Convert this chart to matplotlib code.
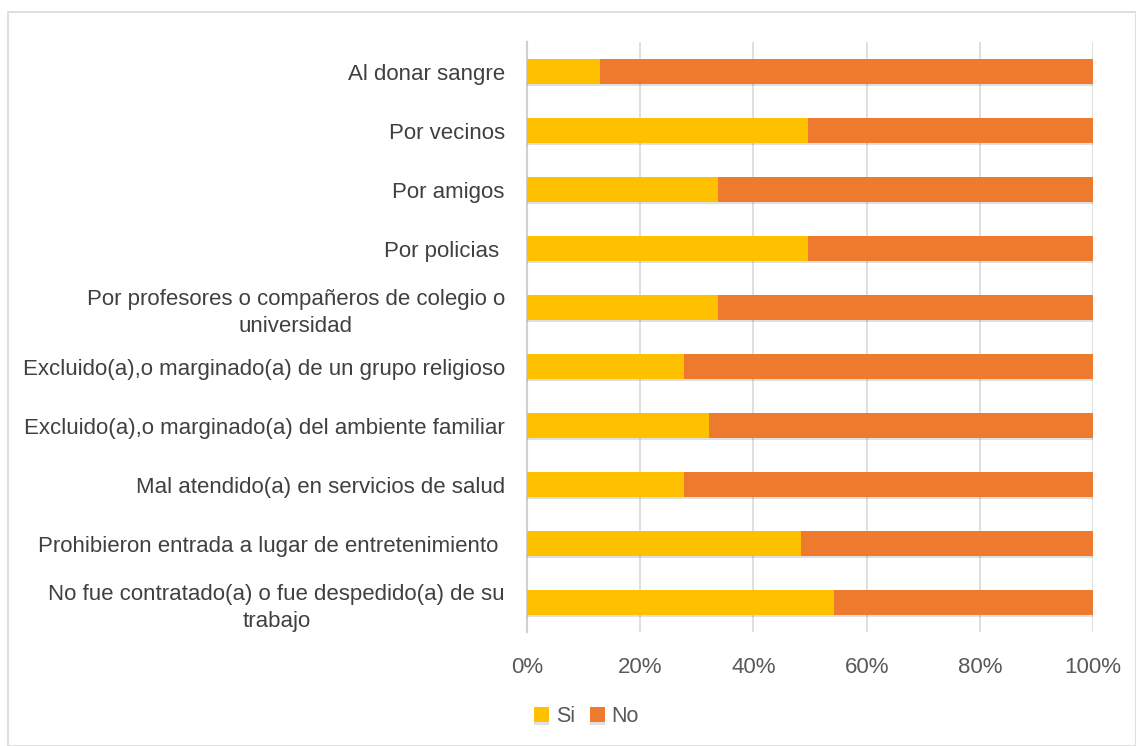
import matplotlib.pyplot as plt
import matplotlib.patheffects as pe
from matplotlib.patches import Rectangle
import numpy as np

categories = [
    "No fue contratado(a) o fue despedido(a) de su\ntrabajo",
    "Prohibieron entrada a lugar de entretenimiento ",
    "Mal atendido(a) en servicios de salud",
    "Excluido(a),o marginado(a) del ambiente familiar",
    "Excluido(a),o marginado(a) de un grupo religioso",
    "Por profesores o compañeros de colegio o\nuniversidad",
    "Por policias ",
    "Por amigos",
    "Por vecinos",
    "Al donar sangre",
]
si_pct = [54.2, 48.4, 27.7, 32.1, 27.7, 33.7, 49.7, 33.7, 49.7, 12.9]
no_pct = [100 - v for v in si_pct]
tick_values = [0, 20, 40, 60, 80, 100]
tick_labels = ["0%", "20%", "40%", "60%", "80%", "100%"]

plt.rcParams["font.family"] = ["Liberation Sans", "DejaVu Sans"]

fig = plt.figure(figsize=(11.36, 7.46), dpi=100)
fig.patches.append(Rectangle((8 / 1136, 0), 1 - 8 / 1136, 1 - 12 / 746,
                             transform=fig.transFigure, fill=False,
                             edgecolor="#D9D9D9", linewidth=1.2))
ax = fig.add_axes([0.4639, 0.1528, 0.4983, 0.7909])

y = np.arange(len(categories))
shadow = [pe.SimplePatchShadow(offset=(0, -2), alpha=0.2, shadow_rgbFace="#606060"), pe.Normal()]
bars_si = ax.barh(y, si_pct, height=0.41, color="#FFC000", label="Si", zorder=3)
bars_no = ax.barh(y, no_pct, left=si_pct, height=0.41, color="#EE7A2E", label="No", zorder=3)
for b in list(bars_si) + list(bars_no):
    b.set_path_effects(shadow)

ax.set_xlim(0, 100)
ax.set_ylim(-0.5, len(categories) - 0.5)
ax.set_xticks(tick_values)
ax.set_xticklabels(tick_labels)
ax.set_yticks(y)
ax.set_yticklabels(categories, multialignment="center", linespacing=1.35)
ax.tick_params(axis="x", length=0, pad=18, labelsize=16, labelcolor="#595959")
ax.tick_params(axis="y", length=0, pad=16, labelsize=16, labelcolor="#404040")
ax.grid(axis="x", color="#D9D9D9", linewidth=1.2, zorder=0)
for side in ["top", "right", "bottom"]:
    ax.spines[side].set_visible(False)
ax.spines["left"].set_color("#D0D0D0")
ax.spines["left"].set_linewidth(1.5)

ax.legend(loc="upper center", bbox_to_anchor=(0.105, -0.093), ncol=2, frameon=False,
          fontsize=15.5, handlelength=0.7, handleheight=0.7, handletextpad=0.3,
          columnspacing=0.7, labelcolor="#595959")

fig.savefig("out.png", dpi=100)
